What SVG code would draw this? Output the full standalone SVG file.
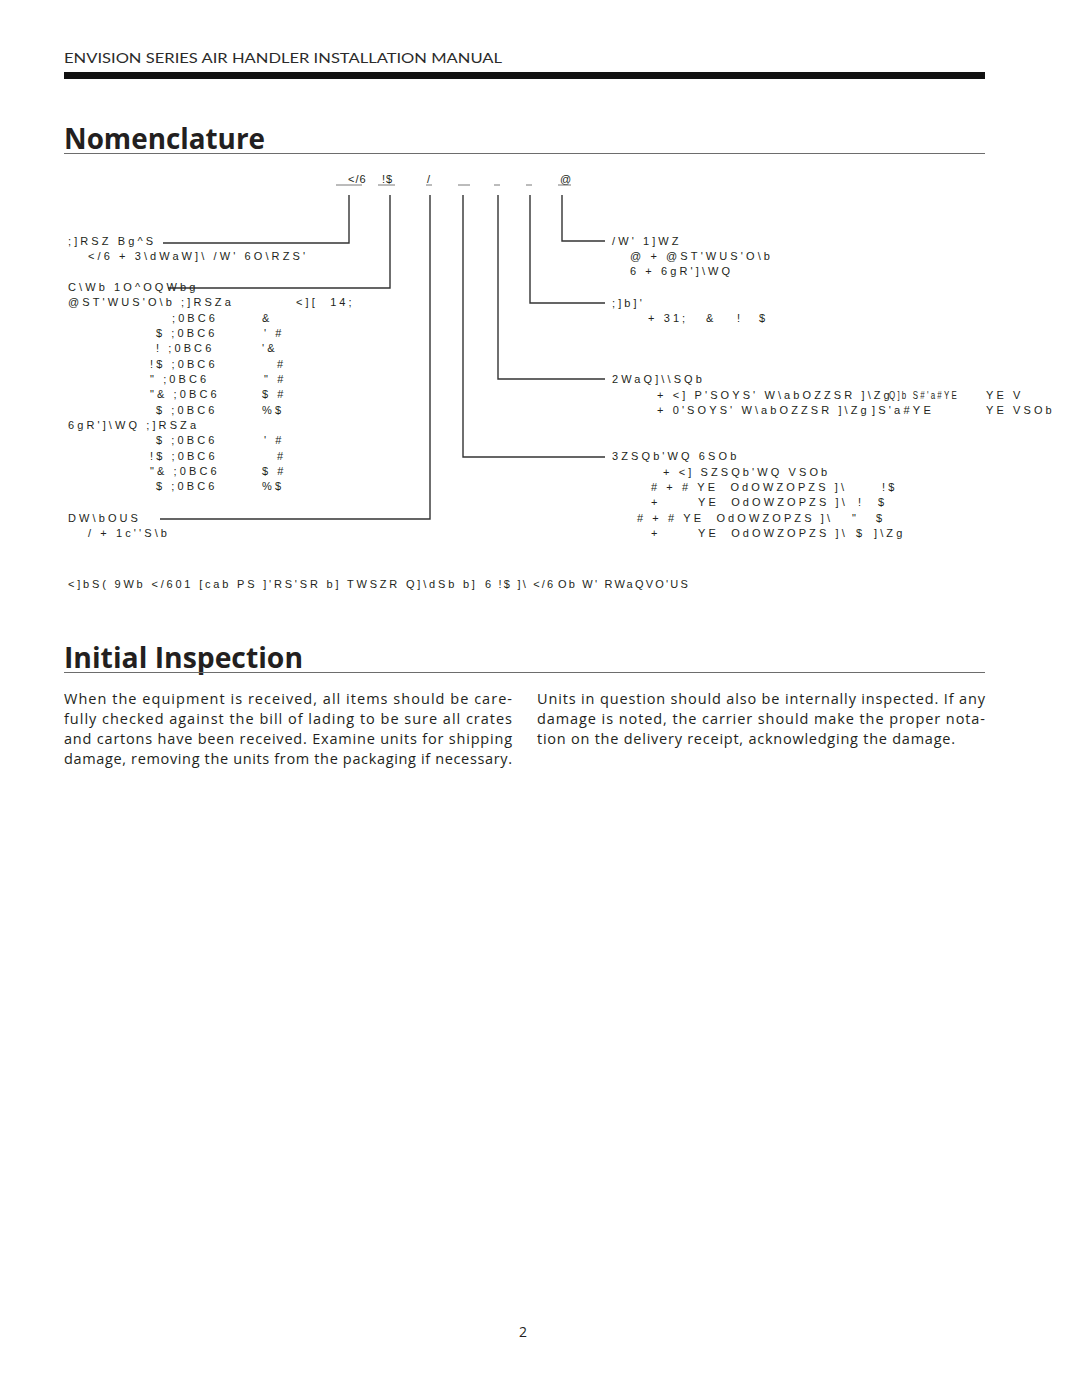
<svg xmlns="http://www.w3.org/2000/svg" width="1080" height="1397" viewBox="0 0 1080 1397">
<style>
.hdr{font-family:Lato,"Open Sans","Liberation Sans",sans-serif;font-size:14px;fill:#2b2b2b}
.h1{font-family:"Open Sans",Lato,"Liberation Sans",sans-serif;font-weight:700;font-size:28px;fill:#231f20}
.g{font-family:"Liberation Sans",Arial,sans-serif;font-size:11px;letter-spacing:3.1px;fill:#231f20;white-space:pre}
.n{letter-spacing:2.2px}
.p{font-family:"Open Sans",Lato,"Liberation Sans",sans-serif;font-size:14.5px;fill:#231f20}
.rule{stroke:#6d6d6d;stroke-width:1.2}
.c{fill:none;stroke:#333;stroke-width:1.4}
.u{stroke:#555;stroke-width:0.8}
</style>
<rect width="1080" height="1397" fill="#fff"/>
<g id="header">
<text class="hdr" x="64" y="63" textLength="438" lengthAdjust="spacingAndGlyphs">ENVISION SERIES AIR HANDLER INSTALLATION MANUAL</text>
<rect x="64" y="72" width="921" height="7" fill="#111"/>
</g>
<g id="title-nomenclature">
<text class="h1" x="64" y="149" textLength="201" lengthAdjust="spacingAndGlyphs">Nomenclature</text>
<line class="rule" x1="64" y1="153.5" x2="985" y2="153.5"/>
</g>
<g id="model-code">
<text class="g" x="348" y="183" style="letter-spacing:1px">&lt;/6</text>
<text class="g" x="382" y="183" style="letter-spacing:1px">!$</text>
<text class="g" x="427" y="183" style="letter-spacing:1px">/</text>
<text class="g" x="560" y="183" style="letter-spacing:1px">@</text>
<line class="u" x1="336" y1="185" x2="362" y2="185"/>
<line class="u" x1="378" y1="185" x2="395" y2="185"/>
<line class="u" x1="426" y1="185" x2="432" y2="185"/>
<line class="u" x1="458" y1="185" x2="470" y2="185"/>
<line class="u" x1="494" y1="185" x2="500" y2="185"/>
<line class="u" x1="526" y1="185" x2="532" y2="185"/>
<line class="u" x1="558" y1="185" x2="571" y2="185"/>
</g>
<g id="connectors">
<polyline class="c" points="349,195 349,243 163,243"/>
<polyline class="c" points="390,195 390,288 168,288"/>
<polyline class="c" points="430,195 430,519 160,519"/>
<polyline class="c" points="463,195 463,457 605,457"/>
<polyline class="c" points="498,195 498,379 605,379"/>
<polyline class="c" points="530,195 530,303 605,303"/>
<polyline class="c" points="562,195 562,241 605,241"/>
</g>
<g id="model-type">
<text class="g" x="68" y="245">;]RSZ Bg^S</text>
<text class="g" x="88" y="260">&lt;/6 + 3\dWaW]\ /W' 6O\RZS'</text>
</g>
<g id="unit-capacity">
<text class="g" x="68" y="291">C\Wb 1O^OQWbg</text>
<text class="g" x="68" y="306">@ST'WUS'O\b ;]RSZa</text>
<text class="g" x="296" y="306">&lt;][  14;</text>
<text class="g" x="172" y="322">;0BC6</text><text class="g" x="262" y="322">&amp;</text>
<text class="g" x="156" y="337">$ ;0BC6</text><text class="g" x="264" y="337">' #</text>
<text class="g" x="156" y="352">! ;0BC6</text><text class="g" x="262" y="352">'&amp;</text>
<text class="g" x="150" y="368">!$ ;0BC6</text><text class="g" x="277" y="368">#</text>
<text class="g" x="150" y="383">" ;0BC6</text><text class="g" x="264" y="383">" #</text>
<text class="g" x="150" y="398">"&amp; ;0BC6</text><text class="g" x="262" y="398">$ #</text>
<text class="g" x="156" y="414">$ ;0BC6</text><text class="g" x="262" y="414">%$</text>
<text class="g" x="68" y="429">6gR']\WQ ;]RSZa</text>
<text class="g" x="156" y="444">$ ;0BC6</text><text class="g" x="264" y="444">' #</text>
<text class="g" x="150" y="460">!$ ;0BC6</text><text class="g" x="277" y="460">#</text>
<text class="g" x="150" y="475">"&amp; ;0BC6</text><text class="g" x="262" y="475">$ #</text>
<text class="g" x="156" y="490">$ ;0BC6</text><text class="g" x="262" y="490">%$</text>
</g>
<g id="vintage">
<text class="g" x="68" y="522">DW\bOUS</text>
<text class="g" x="88" y="537">/ + 1c''S\b</text>
</g>
<g id="coil-option">
<text class="g" x="612" y="245">/W' 1]WZ</text>
<text class="g" x="630" y="260">@ + @ST'WUS'O\b</text>
<text class="g" x="630" y="275">6 + 6gR']\WQ</text>
</g>
<g id="motor">
<text class="g" x="612" y="307">;]b]'</text>
<text class="g" x="648" y="322">+ 31;</text>
<text class="g" x="706" y="322">&amp;</text>
<text class="g" x="737" y="322">!</text>
<text class="g" x="759" y="322">$</text>
</g>
<g id="connection">
<text class="g" x="612" y="383">2WaQ]\\SQb</text>
<text class="g" x="657" y="399">+ &lt;] P'SOYS' W\abOZZSR ]\Zg</text>
<text class="g" x="889" y="399" textLength="70" lengthAdjust="spacingAndGlyphs">Q]b S#'a#YE</text>
<text class="g" x="986" y="399">YE V</text>
<text class="g" x="657" y="414">+ 0'SOYS' W\abOZZSR ]\Zg</text>
<text class="g" x="872" y="414" textLength="62" lengthAdjust="spacingAndGlyphs">]S'a#YE</text>
<text class="g" x="986" y="414">YE VSOb</text>
</g>
<g id="electric-heat">
<text class="g" x="612" y="460">3ZSQb'WQ 6SOb</text>
<text class="g" x="663" y="476">+ &lt;] SZSQb'WQ VSOb</text>
<text class="g" x="651" y="491"># + # YE  OdOWZOPZS ]\</text><text class="g" x="882" y="491">!$</text>
<text class="g" x="651" y="506">+</text><text class="g" x="698" y="506">YE  OdOWZOPZS ]\</text><text class="g" x="858" y="506">!</text><text class="g" x="878" y="506">$</text>
<text class="g" x="637" y="522"># + # YE  OdOWZOPZS ]\</text><text class="g" x="852" y="522">"</text><text class="g" x="876" y="522">$</text>
<text class="g" x="651" y="537">+</text><text class="g" x="698" y="537">YE  OdOWZOPZS ]\</text><text class="g" x="856" y="537">$</text><text class="g" x="874" y="537">]\Zg</text>
</g>
<g id="note">
<text class="g" x="68" y="588" textLength="410" lengthAdjust="spacing">&lt;]bS( 9Wb &lt;/601 [cab PS ]'RS'SR b] TWSZR Q]\dSb b]</text>
<text class="g n" x="485" y="588">6 !$ ]\ &lt;/6</text>
<text class="g n" x="558" y="588">Ob W' RWaQVO'US</text>
</g>
<g id="title-inspection">
<text class="h1" x="64" y="668" textLength="239" lengthAdjust="spacingAndGlyphs">Initial Inspection</text>
<line class="rule" x1="64" y1="672.5" x2="985" y2="672.5"/>
</g>
<g id="inspection-text">
<text class="p" x="64" y="704" textLength="448" lengthAdjust="spacing">When the equipment is received, all items should be care-</text>
<text class="p" x="64" y="724" textLength="448" lengthAdjust="spacing">fully checked against the bill of lading to be sure all crates</text>
<text class="p" x="64" y="744" textLength="448" lengthAdjust="spacing">and cartons have been received.  Examine units for shipping</text>
<text class="p" x="64" y="764" textLength="448" lengthAdjust="spacing">damage, removing the units from the packaging if necessary.</text>
<text class="p" x="537" y="704" textLength="448" lengthAdjust="spacing">Units in question should also be internally inspected.  If any</text>
<text class="p" x="537" y="724" textLength="448" lengthAdjust="spacing">damage is noted, the carrier should make the proper nota-</text>
<text class="p" x="537" y="744" textLength="418" lengthAdjust="spacing">tion on the delivery receipt, acknowledging the damage.</text>
</g>
<g id="page-number">
<text class="p" x="519" y="1337" style="font-size:14px">2</text>
</g>
</svg>
